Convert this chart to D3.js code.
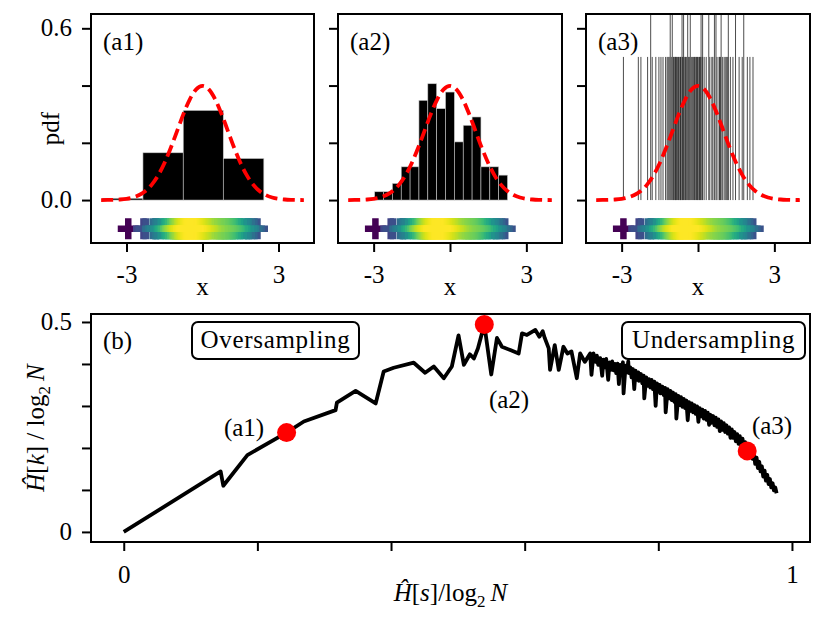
<!DOCTYPE html>
<html>
<head>
<meta charset="utf-8">
<script src="https://cdn.jsdelivr.net/npm/d3@7"></script>
<style>
  body { margin: 0; background: #fff; }
  svg text { font-family: "Liberation Serif", "DejaVu Serif", serif; fill: #000; }
</style>
</head>
<body>
<svg id="fig" width="830" height="623"></svg>
<script>
// sample values in (a3) and the bin counts in (a1)/(a2)
const samples = [
  -2.93, -2.33, -2.24, -1.97, -1.85, -1.85, -1.78, -1.65,
  -1.52, -1.45, -1.36, -1.27,
  -1.20, -1.165, -1.13, -1.086, -1.086, -1.05, -0.995, -0.995, -0.965, -0.935, -0.91, -0.885,
  -0.86, -0.835, -0.805, -0.755, -0.73, -0.705, -0.68, -0.655, -0.624, -0.624, -0.595, -0.56, -0.56, -0.53,
  -0.50, -0.47, -0.44, -0.387, -0.387, -0.355, -0.325, -0.296, -0.296, -0.255, -0.21,
  -0.165, -0.135, -0.105, -0.075, -0.045, -0.015, 0.015, 0.045, 0.075, 0.105, 0.138, 0.138, 0.165,
  0.19, 0.19, 0.25, 0.33, 0.426, 0.426, 0.48,
  0.55, 0.60, 0.663, 0.663, 0.718, 0.718, 0.76, 0.83, 0.855,
  0.895, 0.928, 0.928, 0.97, 1.03, 1.09, 1.14, 1.18, 1.205, 1.205,
  1.28, 1.39, 1.48, 1.48,
  1.63, 1.74, 1.81, 1.81,
  1.95, 2.05, 2.17
];

// bin edges of the three histograms
const a1Edges = [-3.96, -2.35, -0.76, 0.82, 2.42];
const a2Edges = [-2.96, -2.612, -2.264, -1.916, -1.568, -1.22, -0.872, -0.524, -0.176,
                 0.172, 0.52, 0.868, 1.216, 1.564, 1.912, 2.26];
const a3BinWidth = 0.0202;

// reference normal pdf (red dashed)
const pdfX = [-4, -3.75, -3.5, -3.25, -3, -2.75, -2.5, -2.25, -2, -1.75, -1.5, -1.25, -1, -0.75, -0.5, -0.25,
              0, 0.25, 0.5, 0.75, 1, 1.25, 1.5, 1.75, 2, 2.25, 2.5, 2.75, 3, 3.25, 3.5, 3.75, 4];
const pdfY = [0.0001, 0.0004, 0.0009, 0.0020, 0.0044, 0.0091, 0.0175, 0.0317, 0.0540, 0.0863, 0.1295, 0.1826,
              0.2420, 0.3011, 0.3521, 0.3867, 0.3989, 0.3867, 0.3521, 0.3011, 0.2420, 0.1826, 0.1295, 0.0863,
              0.0540, 0.0317, 0.0175, 0.0091, 0.0044, 0.0020, 0.0009, 0.0004, 0.0001];

// panel (b): H[s]/log2 N vs H[k]/log2 N
const entS = [0.000, 0.145, 0.149, 0.185, 0.2437, 0.2695, 0.317, 0.319, 0.347, 0.377, 0.389, 0.404, 0.434,
  0.451, 0.464, 0.479, 0.491, 0.501, 0.509, 0.518, 0.524, 0.530, 0.5396, 0.550, 0.5585, 0.566, 0.5785,
  0.591, 0.596, 0.6034, 0.616, 0.622, 0.627, 0.630, 0.636, 0.638, 0.645, 0.651, 0.658, 0.664, 0.670,
  0.678, 0.683, 0.690, 0.698,
  0.700, 0.703, 0.706, 0.708, 0.710, 0.713, 0.716, 0.718, 0.720, 0.722,
  0.725, 0.727, 0.729, 0.731, 0.733, 0.735, 0.737, 0.739, 0.741, 0.743,
  0.745, 0.747, 0.748, 0.751, 0.753, 0.755, 0.756, 0.758, 0.760, 0.762,
  0.764, 0.766, 0.768, 0.770, 0.771, 0.774, 0.776, 0.778, 0.779, 0.782,
  0.784, 0.786, 0.788, 0.790, 0.792, 0.794, 0.796, 0.798, 0.800, 0.802,
  0.803, 0.806, 0.808, 0.810, 0.811, 0.814, 0.816, 0.818, 0.820, 0.822,
  0.824, 0.826, 0.827, 0.830, 0.832, 0.834, 0.836, 0.838, 0.840, 0.842,
  0.844, 0.846, 0.848, 0.850, 0.852, 0.854, 0.856, 0.858, 0.860, 0.862,
  0.864, 0.866, 0.868, 0.870, 0.872, 0.874, 0.876, 0.878, 0.880, 0.882,
  0.884, 0.886, 0.888, 0.890, 0.892, 0.894, 0.896, 0.898, 0.900, 0.902,
  0.904, 0.906, 0.908, 0.910, 0.912, 0.914, 0.916, 0.918, 0.920, 0.922,
  0.924, 0.926, 0.928, 0.930, 0.933, 0.935, 0.937, 0.939, 0.941, 0.943,
  0.945, 0.947, 0.949, 0.951, 0.953, 0.955, 0.957, 0.959, 0.961, 0.963,
  0.965, 0.967, 0.969, 0.971, 0.973, 0.975, 0.977];
const entK = [0.000, 0.144, 0.110, 0.183, 0.2365, 0.263, 0.290, 0.308, 0.336, 0.306, 0.382, 0.391, 0.403,
  0.379, 0.394, 0.366, 0.394, 0.468, 0.398, 0.423, 0.413, 0.437, 0.494, 0.375, 0.462, 0.441, 0.433,
  0.425, 0.473, 0.469, 0.481, 0.465, 0.478, 0.462, 0.437, 0.386, 0.445, 0.386, 0.441, 0.425, 0.430,
  0.366, 0.425, 0.405, 0.425,
  0.374, 0.425, 0.405, 0.420, 0.398, 0.414, 0.372, 0.410, 0.392, 0.412,
  0.362, 0.404, 0.386, 0.406, 0.385, 0.400, 0.378, 0.401, 0.352, 0.398,
  0.380, 0.404, 0.330, 0.396, 0.380, 0.406, 0.378, 0.392, 0.368, 0.388,
  0.340, 0.384, 0.362, 0.380, 0.360, 0.376, 0.354, 0.372, 0.318, 0.368,
  0.348, 0.364, 0.344, 0.362, 0.340, 0.358, 0.300, 0.354, 0.334, 0.350,
  0.330, 0.346, 0.326, 0.343, 0.285, 0.340, 0.318, 0.336, 0.314, 0.332,
  0.310, 0.328, 0.270, 0.324, 0.302, 0.321, 0.298, 0.317, 0.295, 0.313,
  0.266, 0.309, 0.288, 0.306, 0.285, 0.302, 0.281, 0.299, 0.262, 0.295,
  0.275, 0.291, 0.270, 0.288, 0.267, 0.284, 0.255, 0.279, 0.260, 0.276,
  0.254, 0.272, 0.250, 0.268, 0.240, 0.263, 0.243, 0.259, 0.238, 0.254,
  0.234, 0.249, 0.224, 0.244, 0.224, 0.238, 0.216, 0.233, 0.210, 0.228,
  0.204, 0.222, 0.200, 0.214, 0.193, 0.205, 0.182, 0.197, 0.174, 0.188,
  0.162, 0.177, 0.152, 0.167, 0.144, 0.156, 0.132, 0.146, 0.122, 0.136,
  0.114, 0.126, 0.106, 0.116, 0.099, 0.106, 0.092];

// highlighted points (a1), (a2), (a3)
const markS = [0.2437, 0.5396, 0.933];
const markK = [0.2365, 0.494, 0.193];

// ticks
const aTicksX = [-3, 0, 3];
const aTickTextX = ['-3', '', '3'];
const aTicksY = [0, 0.2, 0.4, 0.6];
const aTickTextY = ['0.0', '', '', '0.6'];
const bTicksX = [0, 0.2, 0.4, 0.6, 0.8, 1];
const bTickTextX = ['0', '', '', '', '', '1'];
const bTicksY = [0, 0.1, 0.2, 0.3, 0.4, 0.5];
const bTickTextY = ['0', '', '', '', '', '0.5'];

const FONT = 25;
const N = samples.length;
const fig = d3.select('#fig');

function styleAxis(a) {
  a.select('.domain').remove();
  a.attr('font-family', null).attr('font-size', null);
  a.selectAll('.tick line').attr('stroke', '#000').attr('stroke-width', 2);
  a.selectAll('.tick text').style('font-size', FONT + 'px');
}

// ---------- top row ----------
const topTop = 14, topBottom = 243;
const yA = d3.scaleLinear().domain([-0.15, 0.65]).range([topBottom, topTop]);

// colour of strip markers from a gaussian kde of the samples
const bw = 0.4;
const dens = samples.map(v =>
  d3.mean(samples, s => Math.exp(-0.5 * ((v - s) / bw) ** 2)) / (bw * Math.sqrt(2 * Math.PI)));
const colour = d3.scaleSequentialSqrt(d3.interpolateViridis).domain(d3.extent(dens));
const order = d3.range(N).sort((i, j) => dens[i] - dens[j]);

const L = 21, T = 6.5, h = L / 2 - T / 2;
const plusPath = `M${-T / 2},${-L / 2}h${T}v${h}h${h}v${T}h${-h}v${h}h${-T}v${-h}h${-h}v${-T}h${h}z`;

const panels = [
  { left: 91, right: 314, tag: '(a1)', edges: a1Edges },
  { left: 338, right: 562, tag: '(a2)', edges: a2Edges },
  { left: 586, right: 810, tag: '(a3)', edges: null }
];

panels.forEach((p, k) => {
  const x = d3.scaleLinear().domain([-4.4, 4.4]).range([p.left, p.right]);
  const g = fig.append('g');
  const clipId = 'clipA' + k;
  fig.append('clipPath').attr('id', clipId).append('rect')
    .attr('x', p.left).attr('y', topTop)
    .attr('width', p.right - p.left).attr('height', topBottom - topTop);
  const body = g.append('g').attr('clip-path', `url(#${clipId})`);

  if (p.edges) {
    const bins = d3.bin()
      .domain([p.edges[0], p.edges[p.edges.length - 1]])
      .thresholds(p.edges.slice(1, -1))(samples);
    body.selectAll('rect.bar').data(bins).join('rect')
      .attr('class', 'bar')
      .attr('x', b => x(b.x0))
      .attr('width', b => x(b.x1) - x(b.x0))
      .attr('y', b => yA(b.length / (N * (b.x1 - b.x0))))
      .attr('height', b => yA(0) - yA(b.length / (N * (b.x1 - b.x0))))
      .attr('fill', '#000')
      .attr('stroke', '#c8c8c8')
      .attr('stroke-width', 0.6);
  } else {
    const lo = d3.min(samples), hi = d3.max(samples);
    const bins = d3.bin().domain([lo, hi + a3BinWidth])
      .thresholds(d3.range(lo, hi + a3BinWidth, a3BinWidth))(samples)
      .filter(b => b.length > 0);
    body.selectAll('rect.bar').data(bins).join('rect')
      .attr('class', 'bar')
      .attr('x', b => x(b.x0) - 0.5)
      .attr('width', 1)
      .attr('y', b => yA(b.length / (N * a3BinWidth)))
      .attr('height', b => yA(0) - yA(b.length / (N * a3BinWidth)))
      .attr('fill', '#222')
      .attr('fill-opacity', 0.8);
  }

  // normal pdf
  body.append('path')
    .attr('d', d3.line().x((d, i) => x(pdfX[i])).y(d => yA(d)).curve(d3.curveMonotoneX)(pdfY))
    .attr('fill', 'none')
    .attr('stroke', '#ff0000')
    .attr('stroke-width', 3.8)
    .attr('stroke-dasharray', '12,5.5');

  // sample strip
  body.selectAll('path.mk').data(order).join('path')
    .attr('class', 'mk')
    .attr('d', plusPath)
    .attr('transform', i => `translate(${x(samples[i])},${yA(-0.1)})`)
    .attr('fill', i => colour(dens[i]));

  // axes
  const ax = g.append('g').attr('transform', `translate(0,${topBottom})`)
    .call(d3.axisBottom(x).tickValues(aTicksX).tickFormat((d, i) => aTickTextX[i]).tickSize(9));
  styleAxis(ax);
  ax.selectAll('.tick text').attr('dy', null).attr('y', 40);

  if (k === 0) {
    const ay = g.append('g').attr('transform', `translate(${p.left},0)`)
      .call(d3.axisLeft(yA).tickValues(aTicksY).tickFormat((d, i) => aTickTextY[i]).tickSize(9).tickPadding(10));
    styleAxis(ay);
    ay.selectAll('.tick text').attr('dy', '0.3em');
    g.append('text')
      .attr('transform', `translate(59,${(topTop + topBottom) / 2}) rotate(-90)`)
      .attr('text-anchor', 'middle')
      .style('font-size', FONT + 'px')
      .text('pdf');
  } else {
    const ay = g.append('g').attr('transform', `translate(${p.left},0)`)
      .call(d3.axisLeft(yA).tickValues(aTicksY).tickFormat('').tickSize(9));
    styleAxis(ay);
  }

  g.append('text')
    .attr('x', (p.left + p.right) / 2).attr('y', 295)
    .attr('text-anchor', 'middle')
    .style('font-size', FONT + 'px')
    .text('x');

  g.append('text')
    .attr('x', p.left + 12).attr('y', 50)
    .style('font-size', FONT + 'px')
    .text(p.tag);

  g.append('rect')
    .attr('x', p.left).attr('y', topTop)
    .attr('width', p.right - p.left).attr('height', topBottom - topTop)
    .attr('fill', 'none').attr('stroke', '#000').attr('stroke-width', 2);
});

// ---------- bottom panel ----------
const bLeft = 91, bRight = 810, bTop = 314, bBottom = 542;
const xB = d3.scaleLinear().domain([-0.049, 1.027]).range([bLeft, bRight]);
const yB = d3.scaleLinear().domain([-0.024, 0.519]).range([bBottom, bTop]);
const gb = fig.append('g');

gb.append('path')
  .attr('d', d3.line().x(d => xB(d)).y((d, i) => yB(entK[i]))(entS))
  .attr('fill', 'none')
  .attr('stroke', '#000')
  .attr('stroke-width', 3.8)
  .attr('stroke-linejoin', 'round');

gb.selectAll('circle.mark').data(markS).join('circle')
  .attr('class', 'mark')
  .attr('cx', d => xB(d))
  .attr('cy', (d, i) => yB(markK[i]))
  .attr('r', 9.5)
  .attr('fill', '#ff0000');

const bx = gb.append('g').attr('transform', `translate(0,${bBottom})`)
  .call(d3.axisBottom(xB).tickValues(bTicksX).tickFormat((d, i) => bTickTextX[i]).tickSize(9));
styleAxis(bx);
bx.selectAll('.tick text').attr('dy', null).attr('y', 41);

const by = gb.append('g').attr('transform', `translate(${bLeft},0)`)
  .call(d3.axisLeft(yB).tickValues(bTicksY).tickFormat((d, i) => bTickTextY[i]).tickSize(9).tickPadding(10));
styleAxis(by);
by.selectAll('.tick text').attr('dy', '0.3em');

// axis labels
const xl = gb.append('text')
  .attr('x', (bLeft + bRight) / 2).attr('y', 601)
  .attr('text-anchor', 'middle')
  .style('font-size', FONT + 'px');
xl.append('tspan').attr('font-style', 'italic').text('Ĥ');
xl.append('tspan').text('[');
xl.append('tspan').attr('font-style', 'italic').text('s');
xl.append('tspan').text(']/log');
xl.append('tspan').attr('dy', 6).style('font-size', '17px').text('2');
xl.append('tspan').attr('dy', -6).text('\u2009');
xl.append('tspan').attr('font-style', 'italic').text('N');

const yl = gb.append('text')
  .attr('transform', `translate(44,${(bTop + bBottom) / 2}) rotate(-90)`)
  .attr('text-anchor', 'middle')
  .style('font-size', FONT + 'px');
yl.append('tspan').attr('font-style', 'italic').text('Ĥ');
yl.append('tspan').text('[');
yl.append('tspan').attr('font-style', 'italic').text('k');
yl.append('tspan').text('] / log');
yl.append('tspan').attr('dy', 6).style('font-size', '17px').text('2');
yl.append('tspan').attr('dy', -6).text('\u2009');
yl.append('tspan').attr('font-style', 'italic').text('N');

// annotations
gb.append('text').attr('x', bLeft + 12).attr('y', 349).style('font-size', FONT + 'px').text('(b)');
const notes = [
  { t: '(a1)', x: 244, y: 436 },
  { t: '(a2)', x: 509, y: 408 },
  { t: '(a3)', x: 772, y: 434 }
];
gb.selectAll('text.note').data(notes).join('text')
  .attr('class', 'note')
  .attr('x', d => d.x).attr('y', d => d.y)
  .attr('text-anchor', 'middle')
  .style('font-size', FONT + 'px')
  .text(d => d.t);

const boxes = [
  { t: 'Oversampling', x0: 192, x1: 359 },
  { t: 'Undersampling', x0: 622, x1: 805 }
];
boxes.forEach(b => {
  gb.append('rect')
    .attr('x', b.x0).attr('y', 322)
    .attr('width', b.x1 - b.x0).attr('height', 37)
    .attr('rx', 6)
    .attr('fill', '#fff').attr('stroke', '#000').attr('stroke-width', 2);
  gb.append('text')
    .attr('x', (b.x0 + b.x1) / 2).attr('y', 348)
    .attr('text-anchor', 'middle')
    .style('font-size', FONT + 'px')
    .style('letter-spacing', '0.7px')
    .text(b.t);
});

gb.append('rect')
  .attr('x', bLeft).attr('y', bTop)
  .attr('width', bRight - bLeft).attr('height', bBottom - bTop)
  .attr('fill', 'none').attr('stroke', '#000').attr('stroke-width', 2);
</script>
</body>
</html>
